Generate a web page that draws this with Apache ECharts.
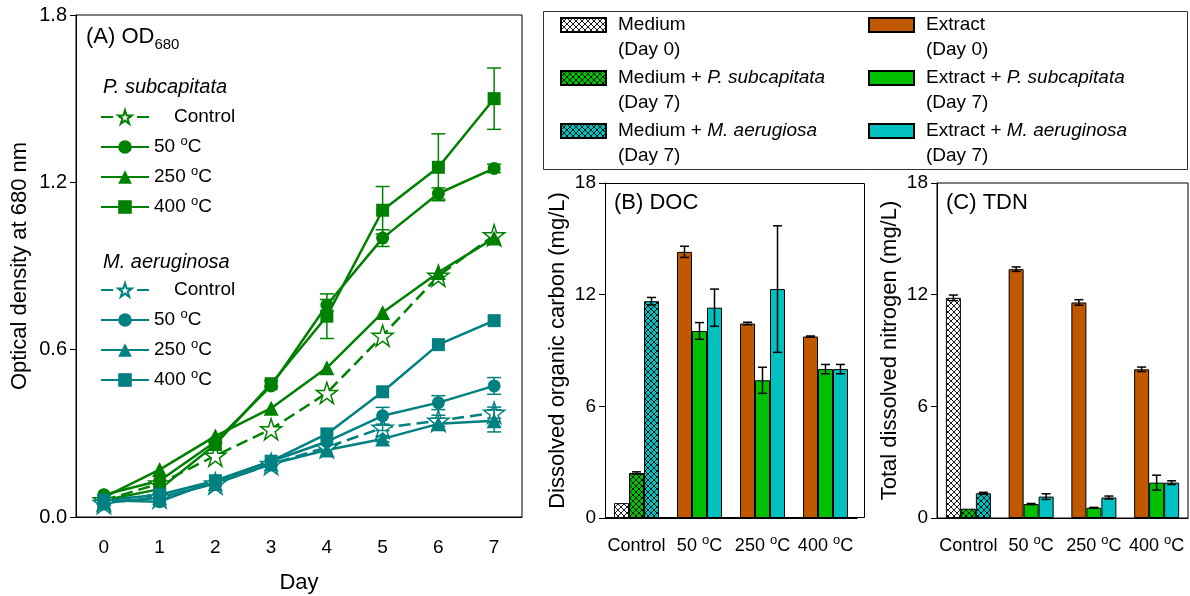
<!DOCTYPE html>
<html>
<head>
<meta charset="utf-8">
<style>
  html, body { margin: 0; padding: 0; background: #fff; }
  #chart { width: 1190px; height: 596px; }
</style>
<script src="https://cdn.jsdelivr.net/npm/echarts@6/dist/echarts.min.js"></script>
</head>
<body>
<div id="chart"></div>
<script>
// ── Data ──────────────────────────────────────────────
const days = ["0", "1", "2", "3", "4", "5", "6", "7"];

// Panel A, OD680 — P. subcapitata
const psControl = [0.06, 0.12, 0.22, 0.315, 0.445, 0.65, 0.865, 1.01];
const ps50      = [0.08, 0.13, 0.27, 0.47, 0.76, 1.0, 1.16, 1.25];
const ps250     = [0.07, 0.17, 0.29, 0.39, 0.535, 0.733, 0.877, 1.0];
const ps400     = [0.06, 0.10, 0.26, 0.478, 0.72, 1.1, 1.254, 1.5];
const psControlErr = [0, 0, 0, 0, 0, 0, 0, 0];
const ps50Err      = [0, 0, 0, 0, 0.02, 0.03, 0.02, 0.015];
const ps250Err     = [0, 0, 0, 0, 0, 0, 0, 0];
const ps400Err     = [0, 0, 0, 0.01, 0.08, 0.085, 0.12, 0.11];

// Panel A, OD680 — M. aeruginosa
const maControl = [0.05, 0.07, 0.12, 0.19, 0.25, 0.32, 0.345, 0.374];
const ma50      = [0.06, 0.055, 0.13, 0.2, 0.27, 0.363, 0.41, 0.47];
const ma250     = [0.05, 0.07, 0.12, 0.19, 0.24, 0.28, 0.334, 0.345];
const ma400     = [0.06, 0.08, 0.13, 0.2, 0.298, 0.449, 0.618, 0.704];
const maControlErr = [0, 0, 0, 0, 0, 0.01, 0.02, 0.02];
const ma50Err      = [0, 0, 0, 0, 0, 0.03, 0.025, 0.03];
const ma250Err     = [0, 0, 0, 0, 0, 0.01, 0.02, 0.04];
const ma400Err     = [0, 0, 0, 0, 0, 0, 0, 0];

// Panels B and C: first group is "Control" (medium), the rest are extracts
const treatments = ["Control", "50", "250", "400"];

const docDay0 = [0.8, 14.3, 10.45, 9.75];
const docDay0Err = [0, 0.3, 0.07, 0.03];
const docPs = [2.42, 10.05, 7.4, 8.0];
const docPsErr = [0.06, 0.45, 0.7, 0.25];
const docMa = [11.65, 11.3, 12.3, 8.0];
const docMaErr = [0.2, 1.0, 3.4, 0.25];

const tdnDay0 = [11.83, 13.37, 11.58, 7.99];
const tdnDay0Err = [0.15, 0.12, 0.15, 0.12];
const tdnPs = [0.5, 0.75, 0.55, 1.9];
const tdnPsErr = [0, 0.03, 0.02, 0.4];
const tdnMa = [1.33, 1.15, 1.1, 1.9];
const tdnMaErr = [0.05, 0.15, 0.08, 0.1];

// ── Styles ────────────────────────────────────────────
const FONT = "'Liberation Sans', Arial, sans-serif";
const GREEN = "#008000";
const TEAL = "#008080";
const ORANGE = "#c05800";
const BAR_GREEN = "#00c000";
const BAR_CYAN = "#00c0c0";
const STAR = "path://M50,2 L61.8,37.6 L99,37.6 L68.8,59.6 L80.4,95 L50,73 L19.6,95 L31.2,59.6 L1,37.6 L38.2,37.6 Z";

function hatch(bg) {
  const c = document.createElement("canvas");
  c.width = c.height = 6;
  const g = c.getContext("2d");
  g.fillStyle = bg;
  g.fillRect(0, 0, 6, 6);
  g.strokeStyle = "#000";
  g.lineWidth = 0.9;
  g.beginPath();
  g.moveTo(0, 0); g.lineTo(6, 6);
  g.moveTo(6, 0); g.lineTo(0, 6);
  g.stroke();
  return { image: c, repeat: "repeat" };
}

// raised "o" for the degree sign: bottom padding lifts the glyph
const supStyle = { fontSize: 13, lineHeight: 20, padding: [0, 0, 12, 0], fontFamily: FONT, color: "#000" };

function degLabel(t) {
  return t === "Control" ? t : t + " {sup|o}C";
}

// ── Series builders ───────────────────────────────────
function lineSeries(name, color, symbol, size, values, dashed) {
  const hollow = symbol === STAR;
  return {
    type: "line",
    name,
    xAxisIndex: 0,
    yAxisIndex: 0,
    data: values,
    symbol,
    symbolSize: size,
    z: 3,
    lineStyle: { color, width: 2.5, type: dashed ? [12, 6] : "solid" },
    itemStyle: hollow
      ? { color: "#fff", borderColor: color, borderWidth: 1.5 }
      : { color },
    emphasis: { disabled: true },
  };
}

function errSeries(color, values, errs, axis, offset, cap, width) {
  const data = [];
  values.forEach((v, i) => {
    if (errs[i] > 0) data.push([i, v - errs[i], v + errs[i]]);
  });
  return {
    type: "custom",
    xAxisIndex: axis,
    yAxisIndex: axis,
    data,
    z: 4,
    silent: true,
    renderItem(params, api) {
      const lo = api.coord([api.value(0), api.value(1)]);
      const hi = api.coord([api.value(0), api.value(2)]);
      const x = lo[0] + offset;
      const st = { stroke: color, lineWidth: width };
      return {
        type: "group",
        children: [
          { type: "line", shape: { x1: x, y1: lo[1], x2: x, y2: hi[1] }, style: st },
          { type: "line", shape: { x1: x - cap, y1: lo[1], x2: x + cap, y2: lo[1] }, style: st },
          { type: "line", shape: { x1: x - cap, y1: hi[1], x2: x + cap, y2: hi[1] }, style: st },
        ],
      };
    },
  };
}

const isControl = (i) => i === 0;
const isExtract = (i) => i > 0;

function barSeries(name, axis, stack, values, fill, keep) {
  return {
    type: "bar",
    name,
    xAxisIndex: axis,
    yAxisIndex: axis,
    stack,
    data: values.map((v, i) => (keep(i) ? v : "-")),
    barWidth: 15,
    barGap: "0%",
    itemStyle: { color: fill, borderColor: "#000", borderWidth: 1 },
    emphasis: { disabled: true },
  };
}

function barPanel(axis, tag, day0, day0Err, ps, psErr, ma, maErr) {
  const fills = {
    m0: hatch("#ffffff"), mp: hatch(BAR_GREEN), mm: hatch(BAR_CYAN),
  };
  return [
    barSeries("Medium (Day 0)", axis, tag + "0", day0, fills.m0, isControl),
    barSeries("Extract (Day 0)", axis, tag + "0", day0, ORANGE, isExtract),
    barSeries("Medium + P (Day 7)", axis, tag + "1", ps, fills.mp, isControl),
    barSeries("Extract + P (Day 7)", axis, tag + "1", ps, BAR_GREEN, isExtract),
    barSeries("Medium + M (Day 7)", axis, tag + "2", ma, fills.mm, isControl),
    barSeries("Extract + M (Day 7)", axis, tag + "2", ma, BAR_CYAN, isExtract),
    errSeries("#000", day0, day0Err, axis, -15, 4.5, 1.5),
    errSeries("#000", ps, psErr, axis, 0, 4.5, 1.5),
    errSeries("#000", ma, maErr, axis, 15, 4.5, 1.5),
  ];
}

// ── Axes ──────────────────────────────────────────────
const black = { color: "#000", width: 1 };

function barXAxis(grid) {
  return {
    type: "category",
    gridIndex: grid,
    data: treatments,
    axisLine: { lineStyle: black },
    axisTick: { alignWithLabel: true, length: 7, lineStyle: black },
    axisLabel: {
      color: "#000", fontFamily: FONT, fontSize: 18, lineHeight: 20, margin: 18, interval: 0,
      formatter: degLabel, rich: { sup: supStyle },
    },
  };
}

function barYAxis(grid, name) {
  return {
    type: "value",
    gridIndex: grid,
    min: 0, max: 18, interval: 6,
    splitLine: { show: false },
    axisLine: { show: true, lineStyle: black },
    axisTick: { show: true, length: 6, lineStyle: black },
    axisLabel: { color: "#000", fontFamily: FONT, fontSize: 19, margin: 9 },
    name,
    nameLocation: "middle",
    nameGap: 36,
    nameTextStyle: { color: "#000", fontFamily: FONT, fontSize: 22 },
  };
}

// ── Legend text ───────────────────────────────────────
const barLegendText = {
  "Medium (Day 0)": "Medium\n(Day 0)",
  "Medium + P (Day 7)": "Medium + {i|P. subcapitata}\n(Day 7)",
  "Medium + M (Day 7)": "Medium + {i|M. aerugiosa}\n(Day 7)",
  "Extract (Day 0)": "Extract\n(Day 0)",
  "Extract + P (Day 7)": "Extract + {i|P. subcapitata}\n(Day 7)",
  "Extract + M (Day 7)": "Extract + {i|M. aeruginosa}\n(Day 7)",
};

function barLegend(left, names) {
  return {
    orient: "vertical",
    left, top: -12.5, padding: 0,
    itemWidth: 45, itemHeight: 14, itemGap: -22,
    icon: "rect",
    selectedMode: false,
    data: names,
    formatter: (n) => barLegendText[n],
    textStyle: {
      color: "#000", fontFamily: FONT, fontSize: 19, lineHeight: 25,
      padding: [25, 0, 0, 7],
      rich: { i: { fontStyle: "italic", fontFamily: FONT, fontSize: 19, lineHeight: 25, color: "#000" } },
    },
  };
}

function lineLegend(top, prefix) {
  return {
    orient: "vertical",
    left: 100, top, padding: 0,
    itemWidth: 48, itemHeight: 17, itemGap: 5,
    selectedMode: false,
    data: ["Control", "50", "250", "400"].map((t) => prefix + t),
    formatter: (n) => {
      const t = n.slice(prefix.length);
      // the empty sup token keeps every row the same height
      return t === "Control" ? "{c|Control}{sup| }" : "{n|" + t + " }{sup|o}{n|C}";
    },
    textStyle: {
      color: "#000", fontFamily: FONT, fontSize: 19, lineHeight: 20,
      rich: {
        c: { fontFamily: FONT, fontSize: 19, lineHeight: 20, padding: [0, 0, 0, 20], color: "#000" },
        n: { fontFamily: FONT, fontSize: 19, lineHeight: 20, color: "#000" },
        sup: supStyle,
      },
    },
  };
}

function titleText(text, left, top, size, italic, lh) {
  return {
    text, left, top, padding: 0,
    textStyle: {
      color: "#000", fontFamily: FONT, fontSize: size, fontWeight: "normal",
      fontStyle: italic ? "italic" : "normal", lineHeight: lh,
      rich: {
        sub: { fontFamily: FONT, fontSize: 15, lineHeight: 15, verticalAlign: "bottom", color: "#000" },
      },
    },
  };
}

// ── Chart ─────────────────────────────────────────────
const chart = echarts.init(document.getElementById("chart"), null, { renderer: "canvas" });

chart.setOption({
  backgroundColor: "#fff",
  animation: false,
  title: [
    titleText("(A) OD{sub|680}", 86, 22, 22, false, 30),
    titleText("P. subcapitata", 103, 75, 20, true, 24),
    titleText("M. aeruginosa", 103, 250, 20, true, 24),
    titleText("(B) DOC", 614, 190, 22, false, 26),
    titleText("(C) TDN", 946, 190, 22, false, 26),
  ],
  legend: [
    lineLegend(104.5, "P-"),
    lineLegend(277.5, "M-"),
    barLegend(560, ["Medium (Day 0)", "Medium + P (Day 7)", "Medium + M (Day 7)"]),
    barLegend(868, ["Extract (Day 0)", "Extract + P (Day 7)", "Extract + M (Day 7)"]),
  ],
  graphic: [
    { type: "rect", shape: { x: 543.5, y: 11.5, width: 644, height: 158 },
      style: { fill: "none", stroke: "#333", lineWidth: 1 }, silent: true },
    { type: "rect", shape: { x: 605.5, y: 183.5, width: 259, height: 334 },
      style: { fill: "none", stroke: "#000", lineWidth: 1 }, silent: true, z: 10 },
  ],
  grid: [
    { left: 76, top: 15, width: 446, height: 502, show: true, borderColor: "#000", borderWidth: 1,
      backgroundColor: "transparent", outerBoundsMode: "none" },
    { left: 605, top: 183, width: 252, height: 335, show: false, outerBoundsMode: "none" },
    { left: 937, top: 183, width: 251, height: 335, show: true, borderColor: "#000", borderWidth: 1,
      backgroundColor: "transparent", outerBoundsMode: "none" },
  ],
  xAxis: [
    {
      type: "category",
      gridIndex: 0,
      data: days,
      axisLine: { lineStyle: black },
      axisTick: { alignWithLabel: true, length: 8, lineStyle: black },
      axisLabel: { color: "#000", fontFamily: FONT, fontSize: 19, margin: 21 },
      name: "Day",
      nameLocation: "middle",
      nameGap: 55,
      nameTextStyle: { color: "#000", fontFamily: FONT, fontSize: 22, verticalAlign: "top" },
    },
    barXAxis(1),
    barXAxis(2),
  ],
  yAxis: [
    {
      type: "value",
      gridIndex: 0,
      min: 0, max: 1.8, interval: 0.6,
      splitLine: { show: false },
      axisLine: { show: true, lineStyle: black },
      axisTick: { show: true, length: 6, lineStyle: black },
      axisLabel: { color: "#000", fontFamily: FONT, fontSize: 20, margin: 9, formatter: (v) => v.toFixed(1) },
      name: "Optical density at 680 nm",
      nameLocation: "middle",
      nameGap: 45,
      nameTextStyle: { color: "#000", fontFamily: FONT, fontSize: 22 },
    },
    barYAxis(1, "Dissolved organic carbon (mg/L)"),
    barYAxis(2, "Total dissolved nitrogen (mg/L)"),
  ],
  series: [
    errSeries(GREEN, psControl, psControlErr, 0, 0, 7, 1.5),
    errSeries(GREEN, ps50, ps50Err, 0, 0, 7, 1.5),
    errSeries(GREEN, ps250, ps250Err, 0, 0, 7, 1.5),
    errSeries(GREEN, ps400, ps400Err, 0, 0, 7, 1.5),
    errSeries(TEAL, maControl, maControlErr, 0, 0, 7, 1.5),
    errSeries(TEAL, ma50, ma50Err, 0, 0, 7, 1.5),
    errSeries(TEAL, ma250, ma250Err, 0, 0, 7, 1.5),
    errSeries(TEAL, ma400, ma400Err, 0, 0, 7, 1.5),
    lineSeries("P-Control", GREEN, STAR, 21, psControl, true),
    lineSeries("P-50", GREEN, "circle", 13, ps50, false),
    lineSeries("P-250", GREEN, "triangle", 15, ps250, false),
    lineSeries("P-400", GREEN, "rect", 13, ps400, false),
    lineSeries("M-Control", TEAL, STAR, 21, maControl, true),
    lineSeries("M-50", TEAL, "circle", 13, ma50, false),
    lineSeries("M-250", TEAL, "triangle", 15, ma250, false),
    lineSeries("M-400", TEAL, "rect", 13, ma400, false),
    ...barPanel(1, "b", docDay0, docDay0Err, docPs, docPsErr, docMa, docMaErr),
    ...barPanel(2, "c", tdnDay0, tdnDay0Err, tdnPs, tdnPsErr, tdnMa, tdnMaErr),
  ],
});

window.addEventListener("resize", () => chart.resize());
</script>
</body>
</html>
